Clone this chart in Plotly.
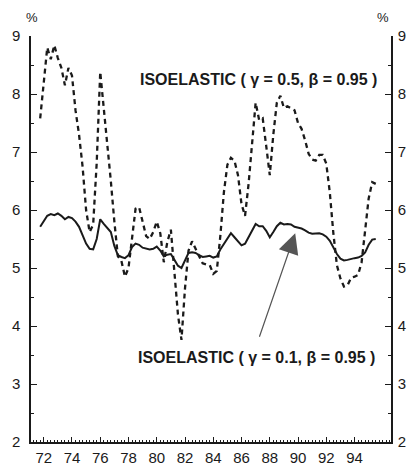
import plotly.graph_objects as go

# Quarterly observations, 1971Q4 .. 1995Q3
start_year = 71.75
solid_vals = [5.71, 5.80, 5.90, 5.93, 5.91, 5.94, 5.90, 5.84, 5.88, 5.86, 5.80, 5.71,
              5.58, 5.42, 5.33, 5.32, 5.50, 5.84, 5.76, 5.68, 5.62, 5.38, 5.22, 5.19,
              5.17, 5.22, 5.36, 5.42, 5.40, 5.35, 5.34, 5.32, 5.33, 5.37, 5.30, 5.20,
              5.23, 5.24, 5.14, 5.04, 5.00, 5.12, 5.26, 5.27, 5.26, 5.22, 5.19, 5.20,
              5.21, 5.18, 5.20, 5.32, 5.42, 5.50, 5.60, 5.53, 5.46, 5.39, 5.42, 5.54,
              5.65, 5.76, 5.72, 5.72, 5.64, 5.53, 5.62, 5.72, 5.78, 5.75, 5.76, 5.75,
              5.71, 5.70, 5.68, 5.65, 5.61, 5.59, 5.60, 5.60, 5.58, 5.54, 5.47, 5.35,
              5.24, 5.16, 5.13, 5.14, 5.16, 5.17, 5.18, 5.21, 5.27, 5.40, 5.49, 5.50]
dashed_vals = [7.58, 8.20, 8.80, 8.60, 8.84, 8.62, 8.45, 8.15, 8.45, 8.32, 7.72, 7.30,
               6.75, 6.00, 5.62, 5.75, 6.81, 8.38, 7.75, 7.25, 6.50, 5.80, 5.20, 5.12,
               4.85, 5.00, 5.50, 6.02, 6.05, 5.78, 5.55, 5.50, 5.62, 5.80, 5.60, 5.10,
               5.45, 5.66, 4.95, 4.20, 3.76, 4.65, 5.30, 5.46, 5.33, 5.20, 5.08, 5.06,
               5.05, 4.90, 4.95, 5.55, 6.30, 6.78, 6.90, 6.85, 6.60, 6.10, 5.90, 6.45,
               7.15, 7.85, 7.55, 7.58, 7.10, 6.60, 7.30, 7.85, 7.97, 7.76, 7.79, 7.76,
               7.72, 7.50, 7.40, 7.20, 6.97, 6.87, 6.85, 6.95, 6.95, 6.80, 6.30, 5.60,
               5.05, 4.82, 4.68, 4.70, 4.83, 4.85, 4.88, 5.10, 5.60, 6.20, 6.48, 6.45]
years = [start_year + 0.25 * i for i in range(len(solid_vals))]

x_tick_vals = [72, 74, 76, 78, 80, 82, 84, 86, 88, 90, 92, 94]
x_tick_text = ["72", "74", "76", "78", "80", "82", "84", "86", "88", "90", "92", "94"]
y_tick_vals = [2, 3, 4, 5, 6, 7, 8, 9]

label_high = "ISOELASTIC ( γ = 0.5, β = 0.95 )"
label_low = "ISOELASTIC ( γ = 0.1, β = 0.95 )"

ink = "#1a1a1a"
font_family = "Liberation Sans, Arial, sans-serif"

fig = go.Figure()
fig.add_trace(go.Scatter(x=years, y=dashed_vals, mode="lines",
                         line=dict(color=ink, width=2.3, dash="5px,4px"),
                         showlegend=False))
fig.add_trace(go.Scatter(x=years, y=solid_vals, mode="lines",
                         line=dict(color=ink, width=2), showlegend=False))
fig.add_trace(go.Scatter(x=[years[0]], y=[solid_vals[0]], yaxis="y2", mode="markers",
                         marker=dict(opacity=0), showlegend=False, hoverinfo="skip"))

yaxis_common = dict(range=[2, 9], tickvals=y_tick_vals, ticks="inside", ticklen=6,
                    tickcolor=ink, tickwidth=1, showline=True, linecolor=ink, linewidth=1.5,
                    showgrid=False, zeroline=False, automargin=False,
                    minor=dict(dtick=0.5, ticks="inside", ticklen=3, tickcolor=ink),
                    tickfont=dict(size=15, color=ink, family=font_family))

fig.update_layout(
    width=410, height=467,
    margin=dict(l=31, r=19, t=36, b=25, autoexpand=False),
    paper_bgcolor="white", plot_bgcolor="white",
    font=dict(family=font_family, color=ink),
    xaxis=dict(range=[71.1, 96.58], tickvals=x_tick_vals, ticktext=x_tick_text,
               ticks="inside", ticklen=5, tickcolor=ink, showline=True, linecolor=ink,
               linewidth=1.5, showgrid=False, zeroline=False, automargin=False,
               ticklabelstandoff=1,
               minor=dict(dtick=0.25, tick0=72, ticks="inside", ticklen=2.5, tickcolor=ink),
               tickfont=dict(size=15, color=ink, family=font_family)),
    yaxis=dict(side="left", ticklabelstandoff=6, **yaxis_common),
    yaxis2=dict(side="right", overlaying="y", ticklabelstandoff=2, **yaxis_common),
)

fig.add_annotation(xref="paper", yref="paper", x=0.003, y=1.0, xanchor="center", yanchor="bottom",
                   yshift=9, text="%", showarrow=False, font=dict(size=13, color=ink))
fig.add_annotation(xref="paper", yref="paper", x=0.978, y=1.0, xanchor="center", yanchor="bottom",
                   yshift=9, text="%", showarrow=False, font=dict(size=13, color=ink))

fig.add_annotation(x=95.76, y=8.25, xanchor="right", yanchor="middle", text="<b>" + label_high + "</b>",
                   showarrow=False, font=dict(size=16, color=ink))
fig.add_annotation(x=95.62, y=3.45, xanchor="right", yanchor="middle", text="<b>" + label_low + "</b>",
                   showarrow=False, font=dict(size=16, color=ink))
fig.add_annotation(x=89.8, y=5.6, ax=87.23, ay=3.79, axref="x", ayref="y", text="",
                   showarrow=True, arrowhead=2, arrowsize=3.4, arrowwidth=1.2,
                   arrowcolor="#555555")

fig.write_html("out.html", config={"displayModeBar": False},
               post_script="document.body.style.margin='0';document.body.style.overflow='hidden';")
